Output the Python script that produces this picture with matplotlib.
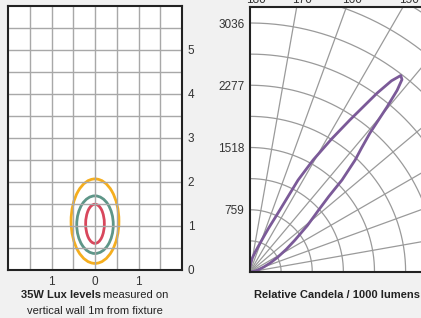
import numpy as np
import matplotlib
matplotlib.use('Agg')
import matplotlib.pyplot as plt
from matplotlib.patches import Ellipse

plt.rcParams['font.family'] = ['Liberation Sans', 'DejaVu Sans']

# lux contours on the wall (centre height, width, height in m)
lux_colors = ['#F5AE1E', '#5E9688', '#D8475C']
lux_center = [1.11, 1.03, 1.05]
lux_width = [1.10, 0.84, 0.43]
lux_height = [1.92, 1.31, 0.89]
wall_xticks = [-1, 0, 1]
wall_xlabels = ['1', '0', '1']
wall_yticks = [0, 1, 2, 3, 4, 5]

# candela distribution (angle from vertical axis in deg, cd / 1000 lm)
gamma = [0, 5, 10, 15, 18, 21, 23, 25.4, 27.6, 29.4, 31.5, 33.3, 35.4, 36.5, 37.5, 38.3,
         39, 39.7, 40.8, 42, 43.2, 45, 46.2, 48, 51, 54.6, 58, 62, 66, 70, 75, 80, 90]
candela = [60, 110, 180, 260, 330, 450, 580, 795, 1265, 1567, 1900, 2218, 2677, 2900, 3020, 2990,
           2850, 2616, 2239, 2030, 1872, 1587, 1330, 1120, 900, 673, 520, 380, 270, 180, 110, 60, 0]
cd_ticks = [759, 1518, 2277, 3036]
angle_labels = [180, 170, 160, 150]

W, H = 421, 318
fig = plt.figure(figsize=(W / 100, H / 100), dpi=100, facecolor='#F1F1F1')

# ---- left: lux levels on the wall
ax1 = fig.add_axes([8 / W, (H - 270) / H, 174 / W, 264 / H])
ax1.set_facecolor('white')
ax1.set_xlim(-2, 2)
ax1.set_ylim(0, 6)
for v in np.arange(-1.5, 2, 0.5):
    ax1.axvline(v, color='#A8A8A8', lw=1)
for v in np.arange(0.5, 6, 0.5):
    ax1.axhline(v, color='#A8A8A8', lw=1)
for c, yc, w, h in zip(lux_colors, lux_center, lux_width, lux_height):
    ax1.add_patch(Ellipse((0, yc), w, h, fill=False, ec=c, lw=2))
ax1.set_xticks(wall_xticks)
ax1.set_xticklabels(wall_xlabels)
ax1.set_yticks(wall_yticks)
ax1.yaxis.tick_right()
ax1.tick_params(length=0, labelsize=8.5, colors='#333333', pad=4)
for s in ax1.spines.values():
    s.set_color('#222222')
    s.set_linewidth(1.5)

fig.text(101 / W, 1 - 295 / H, '35W Lux levels', fontsize=8, fontweight='bold',
         ha='right', va='center', color='#222222')
fig.text(103 / W, 1 - 295 / H, 'measured on', fontsize=8,
         ha='left', va='center', color='#222222')
fig.text(95 / W, 1 - 311 / H, 'vertical wall 1m from fixture', fontsize=8,
         ha='center', va='center', color='#222222')

# ---- right: relative candela polar diagram (one quadrant)
scale = 249 / 3036  # px per cd
ax2 = fig.add_axes([250 / W, (H - 272) / H, (W - 250) / W, 265 / H])
ax2.set_facecolor('white')
xmax = (W - 250) / scale
ymax = 265 / scale
ax2.set_xlim(0, xmax)
ax2.set_ylim(0, ymax)

t = np.linspace(0, np.pi / 2, 200)
for k in range(1, 11):
    r = k * 3036 / 8
    ax2.plot(r * np.cos(t), r * np.sin(t), color='#9A9A9A', lw=0.9)
for a in range(10, 90, 10):
    ar = np.radians(a)
    ax2.plot([0, 6000 * np.cos(ar)], [0, 6000 * np.sin(ar)], color='#9A9A9A', lw=0.9)

g = np.radians(gamma)
cd = np.array(candela)
ax2.plot(cd * np.sin(g), cd * np.cos(g), color='#7B5A98', lw=2,
         solid_capstyle='round', solid_joinstyle='round')

ax2.set_xticks([])
ax2.set_yticks(cd_ticks)
ax2.tick_params(length=0, labelsize=8.5, colors='#333333', pad=4)
for s in ['left', 'bottom', 'top']:
    ax2.spines[s].set_color('#222222')
    ax2.spines[s].set_linewidth(1.5)
ax2.spines['right'].set_visible(False)

for lab in angle_labels:
    gx = ymax * np.tan(np.radians(180 - lab))
    ax2.annotate(str(lab), xy=(gx, ymax), xytext=(4, 5), textcoords='offset points',
                 ha='center', va='center', fontsize=8.5, color='#333333',
                 annotation_clip=False)

fig.text(337 / W, 1 - 295 / H, 'Relative Candela / 1000 lumens', fontsize=8,
         fontweight='bold', ha='center', va='center', color='#222222')

fig.savefig('out.png', dpi=100, facecolor=fig.get_facecolor())
